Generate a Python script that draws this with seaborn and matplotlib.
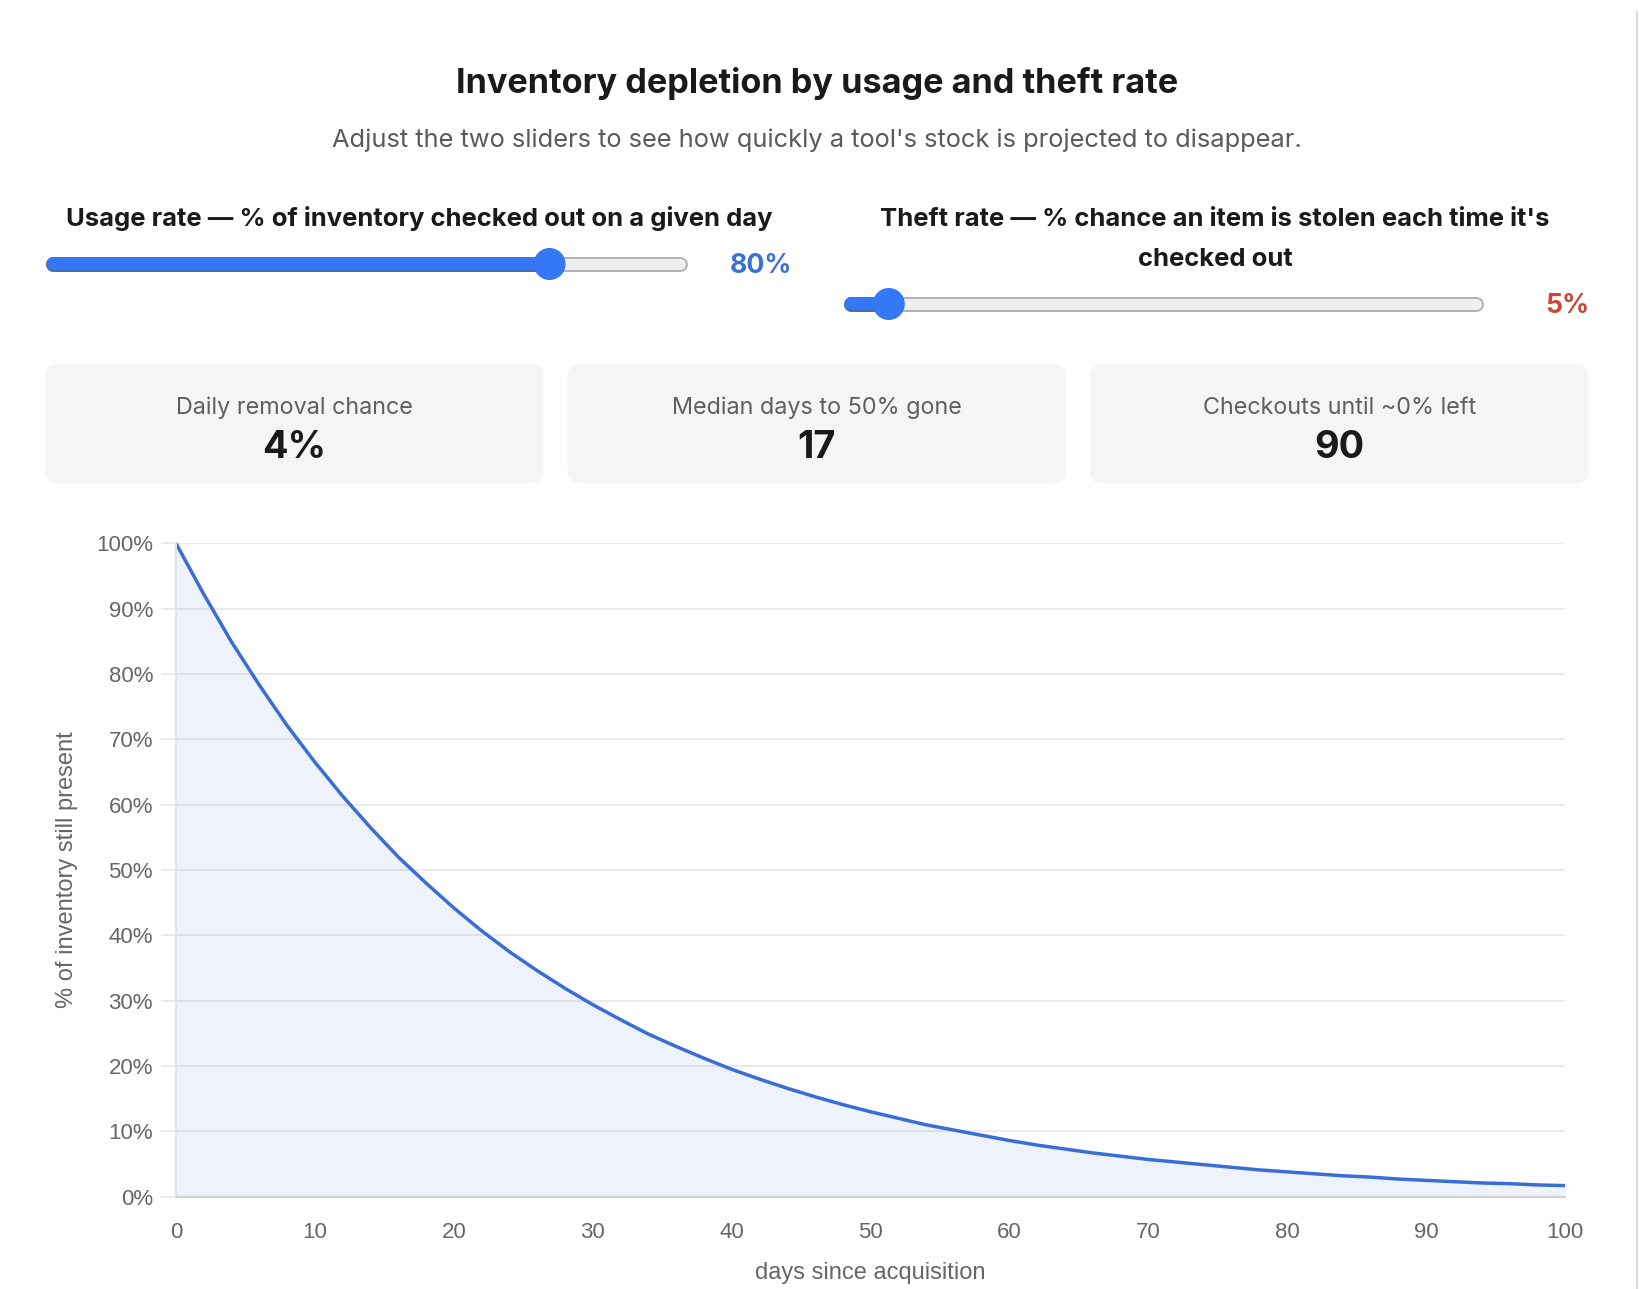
import matplotlib
matplotlib.use("Agg")
import matplotlib.pyplot as plt
from matplotlib.patches import FancyBboxPatch, Circle
import seaborn as sns

# values
days = list(range(0, 101, 2))
pct_left = [100.0, 92.2, 84.9, 78.3, 72.1, 66.5, 61.3, 56.5, 52.0, 48.0,
            44.2, 40.7, 37.5, 34.6, 31.9, 29.4, 27.1, 24.9, 23.0, 21.2,
            19.5, 18.0, 16.6, 15.3, 14.1, 13.0, 12.0, 11.0, 10.2, 9.4,
            8.6, 7.9, 7.3, 6.7, 6.2, 5.7, 5.3, 4.9, 4.5, 4.1,
            3.8, 3.5, 3.2, 3.0, 2.7, 2.5, 2.3, 2.1, 2.0, 1.8, 1.7]
usage_rate = 80
theft_rate = 5
card_labels = ["Daily removal chance", "Median days to 50% gone", "Checkouts until ~0% left"]
card_values = ["4%", "17", "90"]
x_ticks = [0, 10, 20, 30, 40, 50, 60, 70, 80, 90, 100]
y_ticks = [0, 10, 20, 30, 40, 50, 60, 70, 80, 90, 100]

sns.set_theme(style="white")
plt.rcParams['font.family'] = ['Inter', 'DejaVu Sans']

W, H = 1639, 1289
fig = plt.figure(figsize=(W / 100, H / 100), dpi=100)
fig.patch.set_facecolor("white")

# pixel-space layer for the page furniture (title, sliders, cards)
bg = fig.add_axes([0, 0, 1, 1])
bg.set_xlim(0, W)
bg.set_ylim(H, 0)
bg.axis('off')

renderer = fig.canvas.get_renderer()


def fit(t, width):
    # scale a text so it spans the given pixel width
    w = t.get_window_extent(renderer).width
    t.set_fontsize(t.get_fontsize() * width / w)
    return t.get_fontsize()


def px(n):
    return n * 0.72


t = bg.text(817, 92.7, "Inventory depletion by usage and theft rate", ha='center', va='baseline',
            fontsize=25, fontweight='bold', color="#1a1a1a")
fit(t, 721)
t = bg.text(817, 146.7, "Adjust the two sliders to see how quickly a tool's stock is projected to disappear.",
            ha='center', va='baseline', fontsize=17, color="#5a5a5a")
fit(t, 973)

t = bg.text(419, 226, "Usage rate — % of inventory checked out on a given day", ha='center', va='baseline',
            fontsize=18, fontweight='bold', color="#1a1a1a")
fs_lab = fit(t, 706)
bg.text(1215, 226, "Theft rate — % chance an item is stolen each time it's", ha='center', va='baseline',
        fontsize=fs_lab, fontweight='bold', color="#1a1a1a")
bg.text(1215, 266, "checked out", ha='center', va='baseline',
        fontsize=fs_lab, fontweight='bold', color="#1a1a1a")


def slider(x0, x1, y, value, r=15.3):
    a, b = x0 + 7.5, x1 - 7.5
    bg.plot([a, b], [y, y], color="#b4b4b4", lw=px(15), solid_capstyle='round', zorder=2)
    bg.plot([a, b], [y, y], color="#efefef", lw=px(11), solid_capstyle='round', zorder=3)
    kx = x0 + r + (x1 - x0 - 2 * r) * value / 100
    bg.plot([a, kx], [y, y], color="#4a6fb8", lw=px(15), solid_capstyle='round', zorder=4)
    bg.plot([a, kx], [y - 1, y - 1], color="#3478f6", lw=px(12), solid_capstyle='round', zorder=4)
    bg.add_patch(Circle((kx, y), r, color="#3478f6", zorder=5))


slider(45.7, 687, 264, usage_rate)
slider(843, 1483, 304, theft_rate)
t = bg.text(729.3, 273.3, f"{usage_rate}%", ha='left', va='baseline', fontsize=18,
            fontweight='bold', color="#3a6fd8")
fs_val = fit(t, 62.4)
bg.text(1545, 313.3, f"{theft_rate}%", ha='left', va='baseline', fontsize=fs_val,
        fontweight='bold', color="#c8473a")

# summary cards
fs_card = None
fs_big = None
for i, (lab, val) in enumerate(zip(card_labels, card_values)):
    x0 = 45 + i * 522.5
    bg.add_patch(FancyBboxPatch((x0, 364), 498.4, 119.3, boxstyle="round,pad=0,rounding_size=13",
                                fc="#f5f5f3", ec="none", zorder=1))
    cx = x0 + 498.4 / 2
    t1 = bg.text(cx, 414, lab, ha='center', va='baseline', fontsize=fs_card or 17, color="#5f5f5f", zorder=2)
    t2 = bg.text(cx, 458.3, val, ha='center', va='baseline', fontsize=fs_big or 28,
                 fontweight='bold', color="#1a1a1a", zorder=2)
    if i == 0:
        fs_card = fit(t1, 238)
        fs_big = fit(t2, 64)

# page border on the right
bg.plot([1637, 1637], [12, H], color="#dcdcdc", lw=px(2))

# chart
ax = fig.add_axes([176 / W, 1 - 1196.7 / H, (1565 - 176) / W, (1196.7 - 543.3) / H])
ax.set_facecolor('none')
line_color = "#3a6ed6"
ax.fill_between(days, pct_left, 0, color=line_color, alpha=0.085, lw=0)
sns.lineplot(x=days, y=pct_left, ax=ax, color=line_color, lw=2.5)
ax.set_xlim(0, 100)
ax.set_ylim(0, 100)
ax.set_xticks(x_ticks)
ax.set_yticks(y_ticks)
ax.set_yticklabels([f"{v}%" for v in y_ticks])
ax.grid(axis='y', color="#ebebeb", lw=1.4)
ax.grid(axis='x', visible=False)
for s in ['top', 'right']:
    ax.spines[s].set_visible(False)
ax.spines['bottom'].set_color("#d2d2d6")
ax.spines['bottom'].set_linewidth(1.6)
ax.spines['left'].set_color("#e4e4e8")
ax.spines['left'].set_linewidth(1.4)
ax.tick_params(axis='y', length=px(15), width=1.4, color="#ebebeb", pad=px(8),
               labelsize=16, labelcolor="#666666", labelfontfamily='Liberation Sans', left=True)
ax.tick_params(axis='x', length=0, pad=18, labelsize=16, labelcolor="#666666",
               labelfontfamily='Liberation Sans')
ax.set_xlabel("days since acquisition", fontsize=17, color="#666666", family='Liberation Sans')
ax.set_ylabel("% of inventory still present", fontsize=17, color="#666666", family='Liberation Sans')
ax.xaxis.set_label_coords(0.5, -0.10)
ax.yaxis.set_label_coords(-0.0706, 0.5)

fig.savefig("out.png", dpi=100)
